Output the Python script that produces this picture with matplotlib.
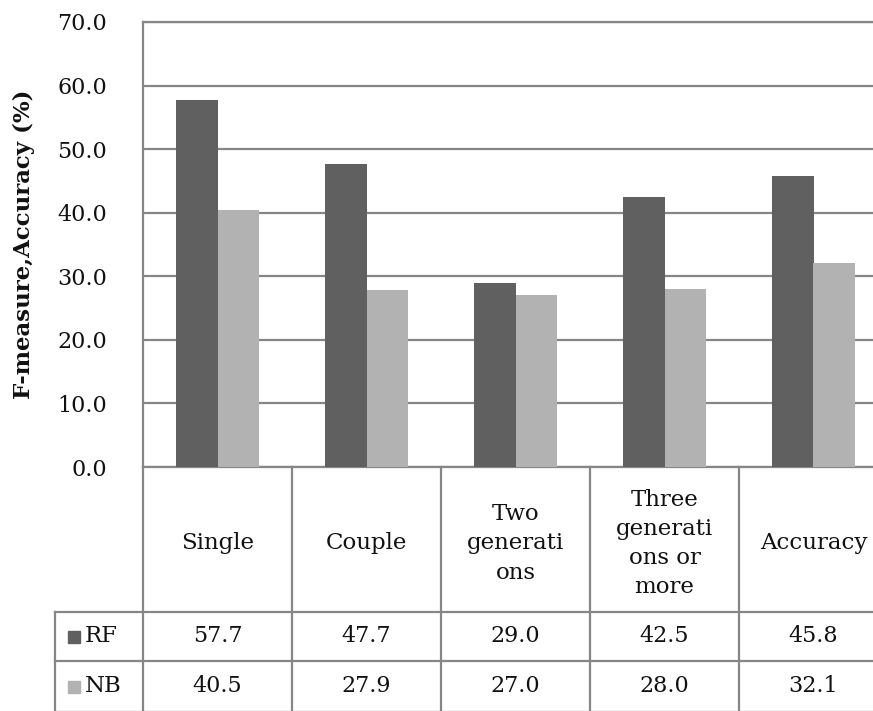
import numpy as np
import matplotlib.pyplot as plt
import matplotlib.transforms as mtransforms

# categories and scores (%)
categories = ["Single", "Couple", "Two\ngenerati\nons", "Three\ngenerati\nons or\nmore", "Accuracy"]
rf_values = [57.7, 47.7, 29.0, 42.5, 45.8]
nb_values = [40.5, 27.9, 27.0, 28.0, 32.1]
series_names = ["RF", "NB"]
y_ticks = [0, 10, 20, 30, 40, 50, 60, 70]

rf_color = "#606060"
nb_color = "#b2b2b2"
line_color = "#868686"
text_color = "#111111"

plt.rcParams['font.family'] = ['DejaVu Serif']

W, H = 873, 711
fig = plt.figure(figsize=(W / 100, H / 100), dpi=100)
fig.patch.set_facecolor("white")

# axes box in pixels (right edge runs past the figure)
left_px, right_px, top_px, bottom_px = 143, 888, 22, 467
ax = fig.add_axes([left_px / W, 1 - bottom_px / H,
                   (right_px - left_px) / W, (bottom_px - top_px) / H])

x = np.arange(len(categories))
bw = 0.28
ax.bar(x - bw / 2, rf_values, bw, color=rf_color, zorder=3)
ax.bar(x + bw / 2, nb_values, bw, color=nb_color, zorder=3)

ax.set_xlim(-0.5, len(categories) - 0.5)
ax.set_ylim(0, 70)
ax.set_yticks(y_ticks)
ax.set_yticklabels([f"{t:.1f}" for t in y_ticks], fontsize=16, color=text_color)
ax.set_xticks([])
ax.tick_params(axis='y', length=0, pad=26)
ax.yaxis.grid(True, color=line_color, linewidth=1.6, zorder=0)
ax.set_axisbelow(True)
for side in ["right", "bottom"]:
    ax.spines[side].set_visible(False)
for side in ["left", "top"]:
    ax.spines[side].set_color(line_color)
    ax.spines[side].set_linewidth(1.6)

ax.set_ylabel("F-measure,Accuracy (%)", fontsize=16.5, fontweight="bold",
              color=text_color, labelpad=16)

# data table under the plot: x in data units, y in axes fraction
trans = mtransforms.blended_transform_factory(ax.transData, ax.transAxes)
ax_h = bottom_px - top_px
header_bot = -(612 - bottom_px) / ax_h
rf_bot = -(661 - bottom_px) / ax_h
nb_bot = -(712 - bottom_px) / ax_h
label_left = -0.5 - (left_px - 55) / 149.0
x_end = len(categories) - 0.5

lk = dict(color=line_color, linewidth=1.6, transform=trans, clip_on=False)
ax.plot([-0.5, x_end], [0, 0], **lk)
for yb in [header_bot, rf_bot, nb_bot]:
    ax.plot([label_left, x_end], [yb, yb], **lk)
for xe in np.arange(-0.5, x_end + 0.01, 1.0):
    ax.plot([xe, xe], [0, nb_bot], **lk)
ax.plot([label_left, label_left], [header_bot, nb_bot], **lk)

header_y = header_bot / 2 - 4 / ax_h
for i, cat in enumerate(categories):
    ax.text(i, header_y, cat, ha="center", va="center", fontsize=16.5,
            linespacing=1.42, color=text_color, transform=trans)

rows = [(rf_values, rf_color, (header_bot + rf_bot) / 2),
        (nb_values, nb_color, (rf_bot + nb_bot) / 2)]
for name, (vals, col, yc) in zip(series_names, rows):
    ax.plot([label_left + 0.125], [yc], marker="s", markersize=8.5, color=col,
            transform=trans, clip_on=False, linestyle="none")
    ax.text(label_left + 0.2, yc, name, ha="left", va="center", fontsize=16.5,
            color=text_color, transform=trans)
    for i, v in enumerate(vals):
        ax.text(i, yc, f"{v:.1f}", ha="center", va="center", fontsize=16,
                color=text_color, transform=trans)

fig.savefig("out.png", dpi=100)
